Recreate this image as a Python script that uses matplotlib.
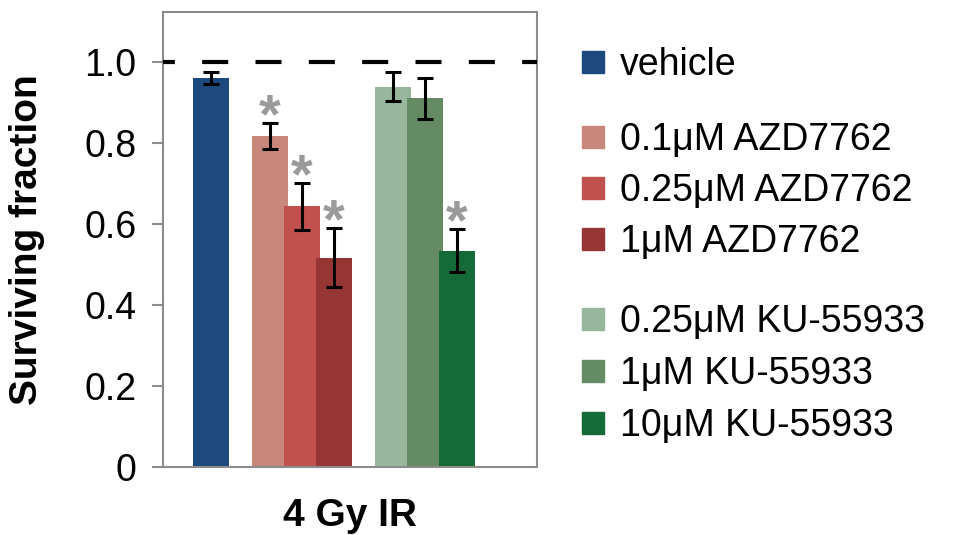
#!/usr/bin/env python
# -*- coding: utf-8 -*-
"""
Surviving fraction after 4 Gy IR, with AZD7762 / KU-55933 pretreatment.
"""

import matplotlib
matplotlib.use("Agg")
import matplotlib.pyplot as plt
from matplotlib.patches import Rectangle

# ------------ Data -----------------

labels = ["vehicle",
          u"0.1\u03bcM AZD7762", u"0.25\u03bcM AZD7762", u"1\u03bcM AZD7762",
          u"0.25\u03bcM KU-55933", u"1\u03bcM KU-55933", u"10\u03bcM KU-55933"]
groups = [0, 1, 1, 1, 2, 2, 2]  # vehicle / AZD7762 / KU-55933
values = [0.960, 0.817, 0.644, 0.517, 0.939, 0.910, 0.534]
errors = [0.015, 0.033, 0.058, 0.072, 0.035, 0.050, 0.053]
signif = [False, True, True, True, False, False, True]
colors = ["#1c4a7e",
          "#c8877b", "#c0514e", "#963634",
          "#97b69b", "#658b64", "#146b37"]
xlabel = "4 Gy IR"
ylabel = "Surviving fraction"
yticks = [0, 0.2, 0.4, 0.6, 0.8, 1.0]
yticklabels = ["0", "0.2", "0.4", "0.6", "0.8", "1.0"]

# ------------ Style -----------------

FONT = "Liberation Sans"
FS = 27          # tick / legend text
FS_BOLD = 28     # axis labels
GRAY = "#8c8c8c"
STEP = 1.0       # distance between bars inside a group
GROUP_GAP = 0.84 # extra space between groups
WIDTH = 1.125    # bars overlap a little
STAR_FS = 40

plt.rcParams["font.family"] = [FONT, "DejaVu Sans"]

fig = plt.figure(figsize=(9.58, 5.35), dpi=100)
ax = fig.add_axes([0.170, 0.127, 0.3905, 0.8506])

# x positions: bars step by STEP, groups separated by GROUP_GAP
xpos = []
x = 0.0
for i, g in enumerate(groups):
    if i > 0:
        x += STEP + (GROUP_GAP if g != groups[i - 1] else 0)
    xpos.append(x)

ax.bar(xpos, values, width=WIDTH, color=colors, yerr=errors,
       error_kw=dict(ecolor="black", elinewidth=2.2, capsize=6, capthick=2.2))

# significance stars above the error bars
for xi, v, e, s in zip(xpos, values, errors, signif):
    if s:
        ax.annotate("*", xy=(xi, v + e + 0.055), xytext=(0, -0.57 * STAR_FS),
                    textcoords="offset points", ha="center", va="baseline",
                    fontsize=STAR_FS, fontweight="bold", color="#9a9a9a")

# reference line at 1.0
ax.axhline(1.0, color="black", lw=3, linestyle=(3.4, (6.25, 6.55)), zorder=3)

ax.set_xlim(-1.5, 10.19)
ax.set_ylim(0, 1.123)
ax.set_xticks([])
ax.set_yticks(yticks)
ax.set_yticklabels(yticklabels, fontsize=FS)
ax.tick_params(axis="y", direction="out", length=8, width=1.5,
               color=GRAY, pad=11)
for sp in ax.spines.values():
    sp.set_color(GRAY)
    sp.set_linewidth(1.5)

ax.set_ylabel(ylabel, fontsize=FS_BOLD, fontweight="bold", va="center")
ax.yaxis.set_label_coords(-0.362, 0.5)
ax.set_xlabel(xlabel, fontsize=FS_BOLD, fontweight="bold", labelpad=22)

# legend drawn by hand, with gaps between the groups
W, H = 958.0, 535.0
row_px = [62, 137, 188, 239, 319, 371, 423]
sq = 22
fs_px = FS * 100 / 72.0
for lab, c, yp in zip(labels, colors, row_px):
    fig.patches.append(Rectangle((582 / W, 1 - (yp + sq / 2.0) / H), sq / W, sq / H,
                                 transform=fig.transFigure, color=c))
    fig.text(620 / W, 1 - (yp + 0.716 * fs_px / 2.0) / H, lab,
             fontsize=FS, va="baseline", ha="left")

fig.savefig("out.png", dpi=100)
